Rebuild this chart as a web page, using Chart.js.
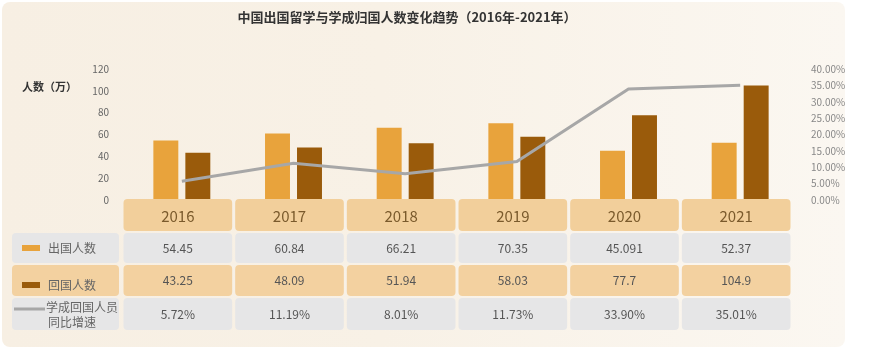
<!DOCTYPE html>
<html>
<head>
<meta charset="utf-8">
<title>中国出国留学与学成归国人数变化趋势</title>
<script src="https://cdn.jsdelivr.net/npm/chart.js@4.4.0/dist/chart.umd.min.js"></script>
<style>
body { margin: 0; background: #fff; }
#wrap { position: relative; width: 870px; height: 364px; }
#card {
  position: absolute; left: 2px; top: 2px; width: 843px; height: 345px;
  border-radius: 8px;
  background: linear-gradient(90deg, #f7efe3 0%, #f8f1e6 45%, #fbf7f1 100%);
}
canvas { position: absolute; left: 0; top: 0; }
</style>
</head>
<body>
<div id="wrap">
  <div id="card"></div>
  <canvas id="chart" width="870" height="364"></canvas>
</div>
<script>
// data
var years = ['2016', '2017', '2018', '2019', '2020', '2021'];
var outbound = [54.45, 60.84, 66.21, 70.35, 45.091, 52.37];   // 出国人数 (万)
var returned = [43.25, 48.09, 51.94, 58.03, 77.7, 104.9];     // 回国人数 (万)
var growth = [5.72, 11.19, 8.01, 11.73, 33.90, 35.01];        // 学成回国人员同比增速 (%)

var rowLabels = ['出国人数', '回国人数', '学成回国人员', '同比增速'];
var titleText = '中国出国留学与学成归国人数变化趋势（2016年-2021年）';
var unitText = '人数（万）';

var FONT = '"Noto Sans CJK SC", "Noto Sans", sans-serif';
var ORANGE = '#e8a33c';
var BROWN = '#9a5b0b';
var GREY_LINE = '#a7a7a7';

function cell(ctx, x, y, w, h, fill) {
  ctx.fillStyle = fill;
  ctx.beginPath();
  ctx.roundRect(x, y, w, h, 4);
  ctx.fill();
}

// draws the title, unit label and the data table under the bars
var tablePlugin = {
  id: 'table',
  afterDraw: function(chart) {
    var ctx = chart.ctx;
    var xs = chart.scales.x;
    var catW = (xs.right - xs.left) / years.length;

    ctx.save();
    ctx.textBaseline = 'middle';

    ctx.fillStyle = '#333';
    ctx.font = 'bold 13px ' + FONT;
    ctx.textAlign = 'center';
    ctx.fillText(titleText, 407, 17);

    ctx.font = 'bold 11px ' + FONT;
    ctx.textAlign = 'left';
    ctx.fillText(unitText, 22, 87);

    var rows = [
      { y: 199, h: 32, fill: '#f2cf9b' },
      { y: 233, h: 30, fill: '#e6e6e7' },
      { y: 265, h: 31, fill: '#f3d1a0' },
      { y: 298, h: 32, fill: '#e6e6e7' }
    ];

    // label column
    for (var r = 1; r < rows.length; r++) {
      cell(ctx, 12, rows[r].y, 107, rows[r].h, rows[r].fill);
    }
    ctx.fillStyle = ORANGE;
    ctx.fillRect(22, 245, 18, 6);
    ctx.fillStyle = BROWN;
    ctx.fillRect(22, 282, 18, 6);
    ctx.strokeStyle = GREY_LINE;
    ctx.lineWidth = 3;
    ctx.beginPath();
    ctx.moveTo(14, 309);
    ctx.lineTo(45, 309);
    ctx.stroke();

    ctx.font = '12px ' + FONT;
    ctx.fillStyle = '#666';
    ctx.textAlign = 'left';
    ctx.fillText(rowLabels[0], 48, 248);
    ctx.fillText(rowLabels[1], 48, 285);
    ctx.fillText(rowLabels[2], 46, 307);
    ctx.fillText(rowLabels[3], 48, 322);

    // one column per year
    for (var i = 0; i < years.length; i++) {
      var cx = xs.getPixelForValue(i) - 4;
      var left = cx - catW / 2 + 1.5;
      var w = catW - 3;
      for (var k = 0; k < rows.length; k++) {
        cell(ctx, left, rows[k].y, w, rows[k].h, rows[k].fill);
      }
      ctx.textAlign = 'center';
      ctx.font = '15px ' + FONT;
      ctx.fillStyle = '#7a5a2c';
      ctx.fillText(years[i], cx, rows[0].y + rows[0].h / 2 + 1);
      ctx.font = '12px ' + FONT;
      ctx.fillStyle = '#555';
      ctx.fillText(String(outbound[i]), cx, rows[1].y + rows[1].h / 2);
      ctx.fillText(String(returned[i]), cx, rows[2].y + rows[2].h / 2);
      ctx.fillText(growth[i].toFixed(2) + '%', cx, rows[3].y + rows[3].h / 2);
    }
    ctx.restore();
  }
};

var ctx = document.getElementById('chart').getContext('2d');
var chart = new Chart(ctx, {
  type: 'bar',
  data: {
    labels: years,
    datasets: [
      {
        type: 'line',
        label: '学成回国人员同比增速',
        data: growth,
        yAxisID: 'y1',
        borderColor: GREY_LINE,
        borderWidth: 3,
        pointRadius: 0,
        tension: 0,
        order: 0
      },
      {
        label: '出国人数',
        data: outbound,
        backgroundColor: ORANGE,
        yAxisID: 'y',
        categoryPercentage: 0.573,
        barPercentage: 0.78,
        order: 1
      },
      {
        label: '回国人数',
        data: returned,
        backgroundColor: BROWN,
        yAxisID: 'y',
        categoryPercentage: 0.573,
        barPercentage: 0.78,
        order: 1
      }
    ]
  },
  options: {
    responsive: false,
    animation: false,
    devicePixelRatio: 1,
    layout: { padding: { top: 69, bottom: 164, left: 0, right: 0 } },
    plugins: {
      legend: { display: false },
      tooltip: { enabled: false }
    },
    scales: {
      x: { display: false },
      y: {
        position: 'left',
        min: 0,
        max: 120,
        ticks: { stepSize: 20, color: '#666', font: { size: 10, family: FONT }, padding: 9 },
        grid: { display: false },
        border: { display: false },
        afterFit: function(s) { s.width = 126; }
      },
      y1: {
        position: 'right',
        min: 0,
        max: 40,
        ticks: {
          stepSize: 5,
          color: '#888',
          font: { size: 10, family: FONT },
          padding: 7,
          callback: function(v) { return v.toFixed(2) + '%'; }
        },
        grid: { display: false },
        border: { display: false },
        afterFit: function(s) { s.width = 74; }
      }
    }
  },
  plugins: [tablePlugin]
});
</script>
</body>
</html>
